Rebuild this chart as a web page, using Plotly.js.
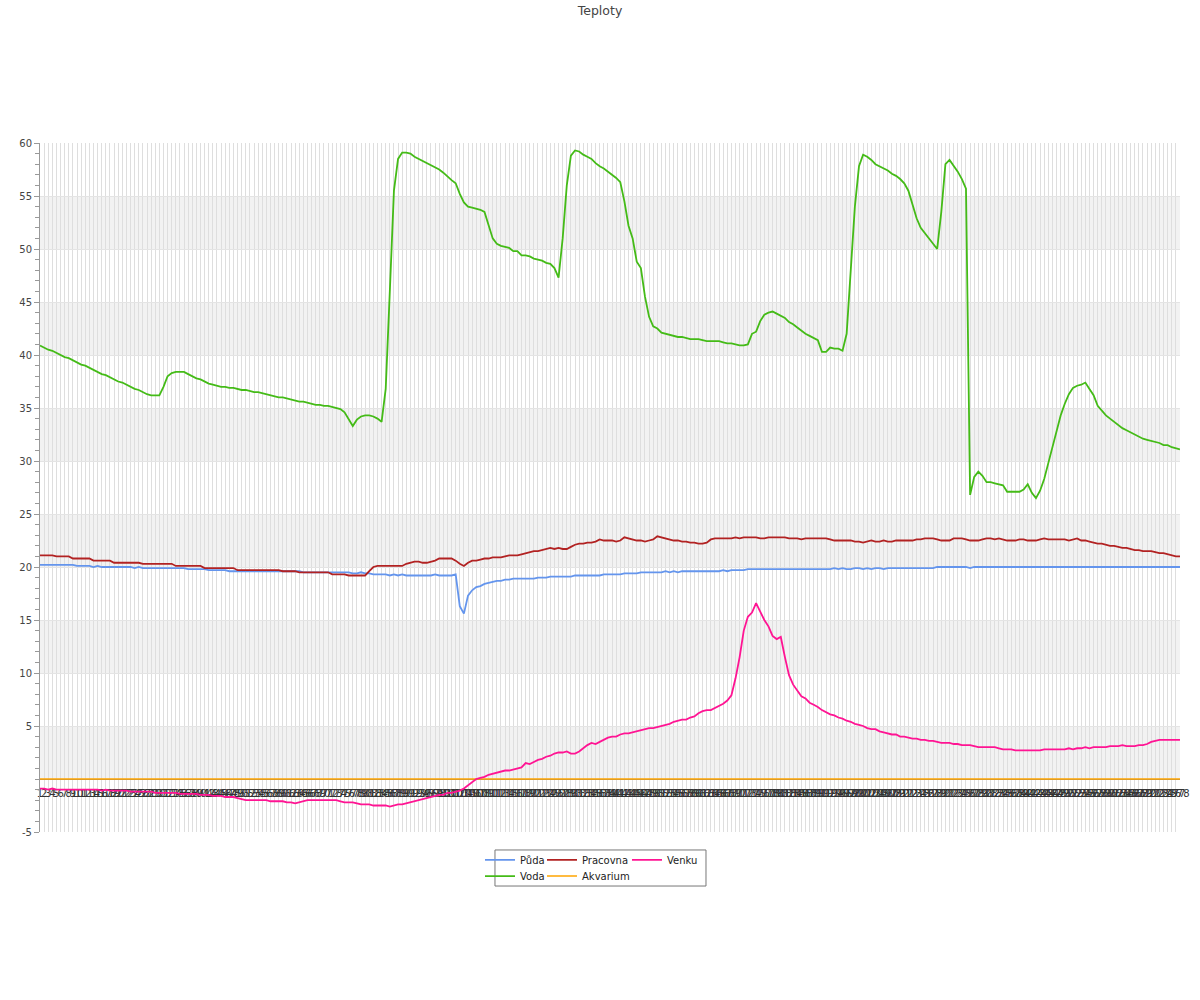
<!DOCTYPE html>
<html>
<head>
<meta charset="utf-8">
<script src="https://cdn.plot.ly/plotly-3.0.1.min.js"></script>
<style>html,body{margin:0;padding:0;background:#fff}#chart{width:1200px;height:1000px}</style>
</head>
<body>
<div id="chart"></div>
<script>
// ---- DATA ----
var categories = ["1","2","3","4","5","6","7","8","9","10","11","12","13","14","15","16","17","18","19","20",
"21","22","23","24","25","26","27","28","29","30","31","32","33","34","35","36","37","38","39","40",
"41","42","43","44","45","46","47","48","49","50","51","52","53","54","55","56","57","58","59","60",
"61","62","63","64","65","66","67","68","69","70","71","72","73","74","75","76","77","78","79","80",
"81","82","83","84","85","86","87","88","89","90","91","92","93","94","95","96","97","98","99","100",
"101","102","103","104","105","106","107","108","109","110","111","112","113","114","115","116","117","118","119","120",
"121","122","123","124","125","126","127","128","129","130","131","132","133","134","135","136","137","138","139","140",
"141","142","143","144","145","146","147","148","149","150","151","152","153","154","155","156","157","158","159","160",
"161","162","163","164","165","166","167","168","169","170","171","172","173","174","175","176","177","178","179","180",
"181","182","183","184","185","186","187","188","189","190","191","192","193","194","195","196","197","198","199","200",
"201","202","203","204","205","206","207","208","209","210","211","212","213","214","215","216","217","218","219","220",
"221","222","223","224","225","226","227","228","229","230","231","232","233","234","235","236","237","238","239","240",
"241","242","243","244","245","246","247","248","249","250","251","252","253","254","255","256","257","258","259","260",
"261","262","263","264","265","266","267","268","269","270","271","272","273","274","275","276","277","278"];

var puda = [
20.2,20.2,20.2,20.2,20.2,20.2,20.2,20.2,20.2,20.1,
20.1,20.1,20.1,20.0,20.1,20.0,20.0,20.0,20.0,20.0,
20.0,20.0,20.0,19.9,20.0,19.9,19.9,19.9,19.9,19.9,
19.9,19.9,19.9,19.9,19.9,19.9,19.8,19.8,19.8,19.8,
19.8,19.7,19.7,19.7,19.7,19.7,19.6,19.6,19.6,19.6,
19.6,19.6,19.6,19.6,19.6,19.6,19.6,19.6,19.6,19.6,
19.6,19.6,19.6,19.6,19.5,19.5,19.5,19.5,19.5,19.5,
19.5,19.5,19.5,19.5,19.5,19.5,19.4,19.4,19.5,19.4,
19.4,19.3,19.3,19.3,19.3,19.2,19.3,19.2,19.3,19.2,
19.2,19.2,19.2,19.2,19.2,19.2,19.3,19.2,19.2,19.2,
19.2,19.3,16.3,15.6,17.3,17.8,18.1,18.2,18.4,18.5,
18.6,18.7,18.7,18.8,18.8,18.9,18.9,18.9,18.9,18.9,
18.9,19.0,19.0,19.0,19.1,19.1,19.1,19.1,19.1,19.1,
19.2,19.2,19.2,19.2,19.2,19.2,19.2,19.3,19.3,19.3,
19.3,19.3,19.4,19.4,19.4,19.4,19.5,19.5,19.5,19.5,
19.5,19.5,19.6,19.5,19.6,19.5,19.6,19.6,19.6,19.6,
19.6,19.6,19.6,19.6,19.6,19.6,19.7,19.6,19.7,19.7,
19.7,19.7,19.8,19.8,19.8,19.8,19.8,19.8,19.8,19.8,
19.8,19.8,19.8,19.8,19.8,19.8,19.8,19.8,19.8,19.8,
19.8,19.8,19.8,19.9,19.8,19.9,19.8,19.8,19.9,19.9,
19.8,19.9,19.8,19.9,19.9,19.8,19.9,19.9,19.9,19.9,
19.9,19.9,19.9,19.9,19.9,19.9,19.9,19.9,20.0,20.0,
20.0,20.0,20.0,20.0,20.0,20.0,19.9,20.0,20.0,20.0,
20.0,20.0,20.0,20.0,20.0,20.0,20.0,20.0,20.0,20.0,
20.0,20.0,20.0,20.0,20.0,20.0,20.0,20.0,20.0,20.0,
20.0,20.0,20.0,20.0,20.0,20.0,20.0,20.0,20.0,20.0,
20.0,20.0,20.0,20.0,20.0,20.0,20.0,20.0,20.0,20.0,
20.0,20.0,20.0,20.0,20.0,20.0,20.0,20.0];

var voda = [
40.9,40.7,40.5,40.4,40.2,40.0,39.8,39.7,39.5,39.3,
39.1,39.0,38.8,38.6,38.4,38.2,38.1,37.9,37.7,37.5,
37.4,37.2,37.0,36.8,36.7,36.5,36.3,36.2,36.2,36.2,
37.0,38.0,38.3,38.4,38.4,38.4,38.2,38.0,37.8,37.7,
37.5,37.3,37.2,37.1,37.0,37.0,36.9,36.9,36.8,36.7,
36.7,36.6,36.5,36.5,36.4,36.3,36.2,36.1,36.0,36.0,
35.9,35.8,35.7,35.6,35.6,35.5,35.4,35.3,35.3,35.2,
35.2,35.1,35.0,34.9,34.6,33.9,33.3,33.9,34.2,34.3,
34.3,34.2,34.0,33.7,36.8,46.0,55.5,58.5,59.1,59.1,
59.0,58.7,58.5,58.3,58.1,57.9,57.7,57.5,57.2,56.8,
56.5,56.2,55.2,54.4,54.0,53.9,53.8,53.7,53.5,52.3,
51.0,50.5,50.3,50.2,50.1,49.8,49.8,49.4,49.4,49.3,
49.1,49.0,48.9,48.7,48.6,48.2,47.3,51.0,56.0,58.8,
59.3,59.2,58.9,58.7,58.5,58.1,57.8,57.6,57.3,57.0,
56.7,56.3,54.5,52.2,51.0,48.8,48.2,45.5,43.6,42.7,
42.5,42.1,42.0,41.9,41.8,41.7,41.7,41.6,41.5,41.5,
41.5,41.4,41.3,41.3,41.3,41.3,41.2,41.1,41.1,41.0,
40.9,40.9,41.0,42.0,42.2,43.2,43.8,44.0,44.1,43.9,
43.7,43.5,43.1,42.9,42.6,42.3,42.0,41.8,41.6,41.4,
40.3,40.3,40.7,40.6,40.6,40.4,42.0,48.0,54.0,57.8,
58.9,58.7,58.4,58.0,57.8,57.6,57.4,57.1,56.9,56.6,
56.2,55.5,54.2,52.9,52.0,51.5,51.0,50.5,50.0,53.5,
58.0,58.4,57.9,57.3,56.6,55.7,26.8,28.5,29.0,28.6,
28.0,28.0,27.9,27.8,27.7,27.1,27.1,27.1,27.1,27.3,
27.8,27.0,26.5,27.2,28.3,29.8,31.3,32.8,34.3,35.4,
36.3,36.9,37.1,37.2,37.4,36.8,36.2,35.2,34.7,34.3,
34.0,33.7,33.4,33.1,32.9,32.7,32.5,32.3,32.1,32.0,
31.9,31.8,31.7,31.5,31.5,31.3,31.2,31.1];

var pracovna = [
21.1,21.1,21.1,21.1,21.0,21.0,21.0,21.0,20.8,20.8,
20.8,20.8,20.8,20.6,20.6,20.6,20.6,20.6,20.4,20.4,
20.4,20.4,20.4,20.4,20.4,20.3,20.3,20.3,20.3,20.3,
20.3,20.3,20.3,20.1,20.1,20.1,20.1,20.1,20.1,20.1,
19.9,19.9,19.9,19.9,19.9,19.9,19.9,19.9,19.7,19.7,
19.7,19.7,19.7,19.7,19.7,19.7,19.7,19.7,19.7,19.6,
19.6,19.6,19.6,19.5,19.5,19.5,19.5,19.5,19.5,19.5,
19.5,19.3,19.3,19.3,19.3,19.2,19.2,19.2,19.2,19.2,
19.6,20.0,20.1,20.1,20.1,20.1,20.1,20.1,20.1,20.3,
20.4,20.5,20.5,20.4,20.4,20.5,20.6,20.8,20.8,20.8,
20.8,20.6,20.3,20.1,20.4,20.6,20.6,20.7,20.8,20.8,
20.9,20.9,20.9,21.0,21.1,21.1,21.1,21.2,21.3,21.4,
21.5,21.5,21.6,21.7,21.8,21.7,21.8,21.7,21.7,21.9,
22.1,22.2,22.2,22.3,22.3,22.4,22.6,22.5,22.5,22.5,
22.4,22.5,22.8,22.7,22.6,22.5,22.5,22.4,22.5,22.6,
22.9,22.8,22.7,22.6,22.5,22.5,22.4,22.4,22.3,22.3,
22.2,22.2,22.3,22.6,22.7,22.7,22.7,22.7,22.7,22.8,
22.7,22.8,22.8,22.8,22.8,22.7,22.7,22.8,22.8,22.8,
22.8,22.8,22.7,22.7,22.7,22.6,22.7,22.7,22.7,22.7,
22.7,22.7,22.6,22.5,22.5,22.5,22.5,22.5,22.4,22.4,
22.3,22.4,22.5,22.4,22.4,22.5,22.4,22.4,22.5,22.5,
22.5,22.5,22.5,22.6,22.6,22.7,22.7,22.7,22.6,22.5,
22.5,22.5,22.7,22.7,22.7,22.6,22.5,22.5,22.5,22.6,
22.7,22.7,22.6,22.7,22.6,22.5,22.5,22.5,22.6,22.6,
22.5,22.5,22.5,22.6,22.7,22.6,22.6,22.6,22.6,22.6,
22.5,22.6,22.7,22.5,22.5,22.4,22.3,22.2,22.2,22.1,
22.0,22.0,21.9,21.8,21.8,21.7,21.6,21.6,21.5,21.5,
21.5,21.4,21.3,21.3,21.2,21.1,21.0,21.0];

var akvarium = [
0,0,0,0,0,0,0,0,0,0, 0,0,0,0,0,0,0,0,0,0, 0,0,0,0,0,0,0,0,0,0, 0,0,0,0,0,0,0,0,0,0,
0,0,0,0,0,0,0,0,0,0, 0,0,0,0,0,0,0,0,0,0, 0,0,0,0,0,0,0,0,0,0, 0,0,0,0,0,0,0,0,0,0,
0,0,0,0,0,0,0,0,0,0, 0,0,0,0,0,0,0,0,0,0, 0,0,0,0,0,0,0,0,0,0, 0,0,0,0,0,0,0,0,0,0,
0,0,0,0,0,0,0,0,0,0, 0,0,0,0,0,0,0,0,0,0, 0,0,0,0,0,0,0,0,0,0, 0,0,0,0,0,0,0,0,0,0,
0,0,0,0,0,0,0,0,0,0, 0,0,0,0,0,0,0,0,0,0, 0,0,0,0,0,0,0,0,0,0, 0,0,0,0,0,0,0,0,0,0,
0,0,0,0,0,0,0,0,0,0, 0,0,0,0,0,0,0,0,0,0, 0,0,0,0,0,0,0,0,0,0, 0,0,0,0,0,0,0,0,0,0,
0,0,0,0,0,0,0,0,0,0, 0,0,0,0,0,0,0,0,0,0, 0,0,0,0,0,0,0,0,0,0, 0,0,0,0,0,0,0,0];

var venku = [
-0.9,-0.9,-1.0,-0.9,-1.0,-1.0,-1.0,-1.0,-1.0,-1.0,
-1.0,-1.0,-1.0,-1.0,-1.0,-1.1,-1.0,-1.1,-1.1,-1.1,
-1.1,-1.1,-1.2,-1.2,-1.2,-1.2,-1.2,-1.2,-1.3,-1.3,
-1.3,-1.3,-1.3,-1.3,-1.4,-1.4,-1.4,-1.4,-1.4,-1.5,
-1.5,-1.5,-1.6,-1.6,-1.6,-1.7,-1.7,-1.7,-1.8,-1.9,
-2.0,-2.0,-2.0,-2.0,-2.0,-2.0,-2.1,-2.1,-2.1,-2.1,
-2.2,-2.2,-2.3,-2.2,-2.1,-2.0,-2.0,-2.0,-2.0,-2.0,
-2.0,-2.0,-2.0,-2.1,-2.2,-2.2,-2.2,-2.3,-2.4,-2.4,
-2.4,-2.5,-2.5,-2.5,-2.5,-2.6,-2.5,-2.4,-2.4,-2.3,
-2.2,-2.1,-2.0,-1.9,-1.8,-1.7,-1.6,-1.5,-1.5,-1.3,
-1.3,-1.2,-1.1,-0.9,-0.6,-0.3,0.0,0.1,0.2,0.4,
0.5,0.6,0.7,0.8,0.8,0.9,1.0,1.1,1.5,1.4,
1.6,1.8,1.9,2.1,2.2,2.4,2.5,2.5,2.6,2.4,
2.4,2.6,2.9,3.2,3.4,3.3,3.5,3.7,3.9,4.0,
4.0,4.2,4.3,4.3,4.4,4.5,4.6,4.7,4.8,4.8,
4.9,5.0,5.1,5.2,5.4,5.5,5.6,5.6,5.8,5.9,
6.2,6.4,6.5,6.5,6.7,6.9,7.1,7.4,7.9,9.5,
11.5,14.0,15.3,15.7,16.6,15.8,15.0,14.4,13.5,13.2,
13.4,11.5,9.8,8.9,8.3,7.8,7.6,7.2,7.0,6.8,
6.5,6.3,6.1,6.0,5.8,5.7,5.5,5.4,5.2,5.1,
5.0,4.8,4.7,4.7,4.5,4.4,4.3,4.2,4.2,4.0,
4.0,3.9,3.8,3.8,3.7,3.7,3.6,3.6,3.5,3.4,
3.4,3.4,3.3,3.3,3.2,3.2,3.2,3.1,3.0,3.0,
3.0,3.0,3.0,2.9,2.8,2.8,2.8,2.7,2.7,2.7,
2.7,2.7,2.7,2.7,2.8,2.8,2.8,2.8,2.8,2.8,
2.9,2.8,2.9,2.9,3.0,2.9,3.0,3.0,3.0,3.0,
3.1,3.1,3.1,3.2,3.1,3.1,3.1,3.2,3.2,3.3,
3.5,3.6,3.7,3.7,3.7,3.7,3.7,3.7];

var seriesNames = ["Půda", "Voda", "Pracovna", "Akvarium", "Venku"];
var yTickVals = [-5, 5, 10, 15, 20, 25, 30, 35, 40, 45, 50, 55, 60];
var yTickText = ["-5", "5", "10", "15", "20", "25", "30", "35", "40", "45", "50", "55", "60"];
var bandStarts = [0, 10, 20, 30, 40, 50];

// ---- STYLE ----
var colors = ["#6495ed", "#44bb17", "#b22222", "#ffa500", "#ff1493"];
var widths = [1.8, 1.8, 1.8, 1.5, 1.8];
var legendOf = ["legend", "legend2", "legend", "legend2", "legend"];
var legendWidths = [17, 17, 40, 60, 30];
var FONT = "DejaVu Sans, Verdana, sans-serif";
var frame = {x0: 0.3991, x1: 0.5842, y0: -0.0261, y1: -0.0784};

var data = [puda, voda, pracovna, akvarium, venku];
var traces = data.map(function (vals, k) {
  return {
    type: "scatter", mode: "lines",
    x: categories, y: vals, name: seriesNames[k],
    line: {color: colors[k], width: widths[k]},
    legend: legendOf[k], legendwidth: legendWidths[k],
    hoverinfo: "x+y+name"
  };
});

var shapes = bandStarts.map(function (b) {
  return {type: "rect", xref: "paper", yref: "y", x0: 0, x1: 1, y0: b, y1: b + 5,
          fillcolor: "#f2f2f2", line: {width: 0}, layer: "below"};
});
shapes.push({type: "rect", xref: "paper", yref: "paper", x0: frame.x0, x1: frame.x1,
             y0: frame.y0, y1: frame.y1, line: {color: "#777", width: 1}, fillcolor: "rgba(0,0,0,0)"});

var layout = {
  width: 1200, height: 1000,
  margin: {l: 40, r: 20, t: 143, b: 168, autoexpand: false},
  paper_bgcolor: "#fff", plot_bgcolor: "rgba(0,0,0,0)",
  font: {family: FONT, size: 10, color: "#444"},
  title: {text: "Teploty", font: {family: FONT, size: 12.5, color: "#444"},
          x: 0.5, xanchor: "center", y: 0.989, yanchor: "middle", yref: "container"},
  xaxis: {
    type: "category", range: [0, categories.length - 1],
    anchor: "free", position: 5 / 65,
    tickmode: "linear", dtick: 1, tickangle: 0,
    ticks: "", showline: true, linecolor: "#888", linewidth: 1,
    ticklabelstandoff: 5,
    showgrid: true, gridcolor: "#dedede", gridwidth: 1,
    tickfont: {family: FONT, size: 10, color: "#333"},
    zeroline: false, layer: "below traces", automargin: false
  },
  yaxis: {
    range: [-5, 60], tickmode: "array", tickvals: yTickVals, ticktext: yTickText,
    ticks: "outside", ticklen: 5, tickcolor: "#999", showline: true, linecolor: "#999", linewidth: 1,
    showgrid: true, gridcolor: "#e4e4e4", zeroline: false,
    minor: {tickmode: "linear", tick0: 0, dtick: 1, ticks: "outside", ticklen: 4, tickcolor: "#999", showgrid: false},
    tickfont: {family: FONT, size: 10, color: "#444"}, automargin: false
  },
  legend: {orientation: "h", x: 0.38596, xanchor: "left", y: -0.0406, yanchor: "middle",
           bgcolor: "rgba(0,0,0,0)", borderwidth: 0, traceorder: "normal",
           font: {family: FONT, size: 10, color: "#222"}},
  legend2: {orientation: "h", x: 0.38596, xanchor: "left", y: -0.0639, yanchor: "middle",
            bgcolor: "rgba(0,0,0,0)", borderwidth: 0, traceorder: "normal",
            font: {family: FONT, size: 10, color: "#222"}},
  shapes: shapes,
  showlegend: true
};

Plotly.newPlot("chart", traces, layout, {displayModeBar: false, staticPlot: true});
</script>
</body>
</html>
